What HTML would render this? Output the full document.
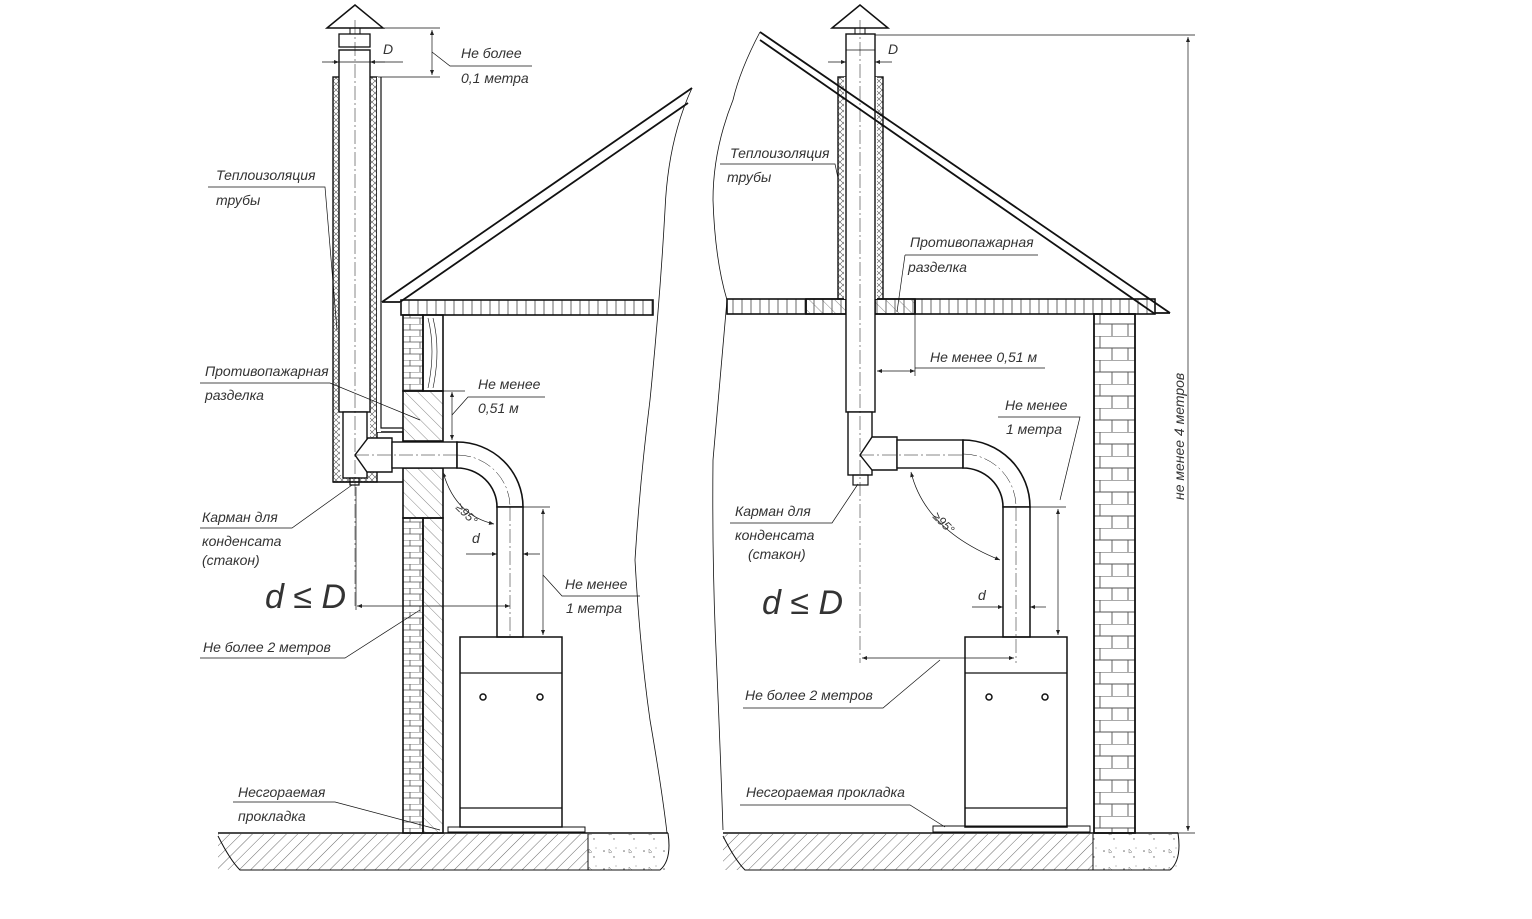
<!DOCTYPE html>
<html><head><meta charset="utf-8"><style>
html,body{margin:0;padding:0;background:#fff}
svg{display:block}
text{font-family:"Liberation Sans",sans-serif;font-style:italic;fill:#333;font-size:14px}
</style></head><body>
<svg width="1532" height="919" viewBox="0 0 1532 919" xmlns="http://www.w3.org/2000/svg">
<defs>
<pattern id="hd" width="8" height="8" patternUnits="userSpaceOnUse" patternTransform="rotate(45)"><line x1="0" y1="0" x2="0" y2="8" stroke="#444" stroke-width="0.8"/></pattern>
<pattern id="hd2" width="9" height="9" patternUnits="userSpaceOnUse" patternTransform="rotate(-45)"><line x1="0" y1="0" x2="0" y2="9" stroke="#555" stroke-width="0.7"/></pattern>
<pattern id="xh" width="6" height="6" patternUnits="userSpaceOnUse"><path d="M0 0L6 6M6 0L0 6" stroke="#555" stroke-width="0.6"/></pattern>
<pattern id="vh" width="9" height="10" patternUnits="userSpaceOnUse"><line x1="4" y1="0" x2="4" y2="10" stroke="#444" stroke-width="0.8"/></pattern>
<pattern id="brick" width="20" height="12" patternUnits="userSpaceOnUse"><path d="M0 0H20M0 6H20M10 0V6M0 6V12M20 6V12" stroke="#555" stroke-width="0.8" fill="none"/></pattern>
<pattern id="brick2" width="40" height="24" patternUnits="userSpaceOnUse"><path d="M0 0H40M0 12H40M20 0V12M8 12V24M32 12V24" stroke="#555" stroke-width="0.9" fill="none"/></pattern>
<pattern id="conc" width="20" height="18" patternUnits="userSpaceOnUse"><circle cx="4" cy="5" r="0.8" fill="#666"/><circle cx="14" cy="11" r="0.7" fill="#666"/><path d="M9 3l3 3-3 1z" fill="none" stroke="#777" stroke-width="0.5"/><circle cx="16" cy="2" r="0.5" fill="#666"/></pattern>
<marker id="ar" viewBox="0 0 10 10" refX="10" refY="5" markerWidth="9" markerHeight="5" orient="auto-start-reverse" markerUnits="userSpaceOnUse"><path d="M0 1L10 5L0 9z" fill="#222"/></marker>
</defs>
<g stroke="#111" fill="none" stroke-width="1.6">

<!-- ===== LEFT ===== -->
<!-- ground -->
<rect x="218" y="834" width="370" height="36" fill="url(#hd)" stroke="none"/>
<rect x="588" y="834" width="80" height="36" fill="url(#conc)" stroke="none"/>
<path d="M218 833H668" stroke-width="1.6"/>
<path d="M588 834V870M218 836 Q230 860 240 870 H660 Q672 860 668 833" stroke-width="1"/>
<!-- wavy break -->
<path d="M692 88 Q668 140 665 210 Q660 300 650 400 Q640 480 635 560 Q640 650 650 720 Q662 790 667 833" stroke-width="0.8"/>
<!-- roof -->
<path d="M382 302L692 88M400 302L688 103M382 302H400" stroke-width="1.8"/>
<rect x="401" y="300" width="252" height="15" fill="url(#vh)"/>
<!-- wall -->
<rect x="403" y="315" width="20" height="76" fill="url(#brick)"/>
<rect x="423" y="315" width="20" height="76"/>
<path d="M428 318 Q436 350 428 388M433 318 Q441 350 433 388" stroke-width="0.6"/>
<rect x="403" y="391" width="40" height="50" fill="url(#hd2)"/>
<rect x="403" y="468" width="40" height="50" fill="url(#hd2)"/>
<rect x="403" y="518" width="20" height="315" fill="url(#brick)"/>
<rect x="423" y="518" width="20" height="315" fill="url(#hd2)"/>
<!-- chimney -->
<path d="M327 28L355 5L383 28Z" stroke-width="1.5"/>
<rect x="350" y="28" width="10" height="6" stroke-width="1"/>
<rect x="339" y="34" width="31" height="13" stroke-width="1.3"/>
<rect x="333" y="77" width="44" height="405" fill="url(#xh)" stroke-width="1.4"/>
<path d="M377 77V432H403V441" stroke-width="1.4"/>
<path d="M333 482H403" stroke-width="1.4"/>
<rect x="340" y="77" width="30" height="398" fill="#fff" stroke="none"/>
<rect x="377" y="77" width="4" height="355" fill="#fff" stroke="none"/>
<path d="M381 77V428H403" stroke-width="1.2"/>
<rect x="339" y="50" width="31" height="362" fill="#fff" stroke-width="1.4"/>
<rect x="343" y="412" width="24" height="66" fill="#fff" stroke-width="1.4"/>
<rect x="350" y="478" width="9" height="7" stroke-width="1.2"/>
<path d="M368 438H392V472H367L355 455Z" fill="#fff" stroke-width="1.4"/>
<rect x="392" y="442" width="65" height="26" fill="#fff" stroke-width="1.4"/>
<path d="M457 442A66 65 0 0 1 523 507H497A40 39 0 0 0 457 468Z" fill="#fff" stroke-width="1.6"/>
<rect x="497" y="507" width="26" height="130" fill="#fff" stroke-width="1.5"/>
<path d="M355 20V606M355 455H457M510 507V637" stroke-width="0.5" stroke-dasharray="14 3 2 3"/>
<path d="M457 455A53 52 0 0 1 510 507" stroke-width="0.5" stroke-dasharray="14 3 2 3"/>
<!-- boiler -->
<rect x="460" y="637" width="102" height="190" stroke-width="1.5"/>
<path d="M460 673H562M460 808H562" stroke-width="1.3"/>
<circle cx="483" cy="697" r="3" stroke-width="1.5"/>
<circle cx="540" cy="697" r="3" stroke-width="1.5"/>
<rect x="448" y="827" width="137" height="5" stroke-width="1"/>
<!-- dims -->
<g stroke-width="0.7">
<path d="M335 28H440M378 77H440M332 62H403"/>
<path d="M432 30V75" marker-start="url(#ar)" marker-end="url(#ar)"/>
<path d="M322 62H339" marker-end="url(#ar)"/><path d="M385 62H370" marker-end="url(#ar)"/>
<path d="M432 52L450 66H532"/>
<path d="M452 392V440" marker-start="url(#ar)" marker-end="url(#ar)"/>
<path d="M443 391H465"/><path d="M452 415L468 397H545"/>
<path d="M356 487V610"/>
<path d="M357 606H510" marker-start="url(#ar)" marker-end="url(#ar)"/>
<path d="M466 554H497" marker-end="url(#ar)"/><path d="M540 554H523" marker-end="url(#ar)"/>
<path d="M523 507H550"/>
<path d="M543 509V635" marker-start="url(#ar)" marker-end="url(#ar)"/>
<path d="M543 575L562 596H640"/>
<path d="M443 472Q455 515 494 524" marker-start="url(#ar)" marker-end="url(#ar)"/>
<path d="M208 187H325L337 330"/>
<path d="M200 383H330L420 420"/>
<path d="M200 528H292L352 485"/>
<path d="M200 658H345L420 610"/>
<path d="M233 802H335L440 830"/>
</g>

<!-- ===== RIGHT ===== -->
<rect x="723" y="834" width="370" height="36" fill="url(#hd)" stroke="none"/>
<rect x="1093" y="834" width="85" height="36" fill="url(#conc)" stroke="none"/>
<path d="M723 833H1178" stroke-width="1.6"/>
<path d="M1093 834V870M723 836 Q735 860 745 870 H1170 Q1182 860 1178 833" stroke-width="1"/>
<path d="M760 32 Q740 70 733 100 Q713 150 713 200 Q715 260 727 300 Q720 380 713 460 Q712 560 716 650 Q720 740 723 830" stroke-width="0.8"/>
<!-- slab -->
<rect x="727" y="299" width="428" height="15" fill="url(#vh)"/>
<rect x="806" y="299" width="40" height="15" fill="url(#hd2)"/>
<rect x="875" y="299" width="40" height="15" fill="url(#hd2)"/>
<path d="M806 299V314M915 299V314"/>
<!-- brick wall -->
<rect x="1094" y="314" width="41" height="519" fill="url(#brick2)" stroke-width="1.8"/>
<!-- chimney -->
<rect x="838" y="77" width="45" height="222" fill="url(#xh)" stroke-width="1.4"/>
<rect x="844" y="77" width="33" height="222" fill="#fff" stroke="none"/>
<path d="M832 28L860 5L888 28Z" stroke-width="1.5"/>
<rect x="855" y="28" width="10" height="6" stroke-width="1"/>
<rect x="846" y="34" width="29" height="378" fill="#fff" stroke-width="1.4"/>
<path d="M846 50H875" stroke-width="0.8"/>
<!-- roof diagonal -->
<path d="M760 32L1170 313M760 40L1155 314M1155 313H1170" stroke-width="1.8"/>
<rect x="848" y="412" width="24" height="63" fill="#fff" stroke-width="1.4"/>
<rect x="853" y="475" width="15" height="10" stroke-width="1.2"/>
<path d="M872 437H897V470H872L860 455Z" fill="#fff" stroke-width="1.4"/>
<rect x="897" y="440" width="66" height="28" fill="#fff" stroke-width="1.4"/>
<path d="M963 440A67 67 0 0 1 1030 507H1003A40 39 0 0 0 963 468Z" fill="#fff" stroke-width="1.6"/>
<rect x="1003" y="507" width="27" height="130" fill="#fff" stroke-width="1.5"/>
<path d="M860 20V663M860 455H963M1016 507V663" stroke-width="0.5" stroke-dasharray="14 3 2 3"/>
<path d="M963 454A53 53 0 0 1 1016 507" stroke-width="0.5" stroke-dasharray="14 3 2 3"/>
<rect x="965" y="637" width="102" height="190" stroke-width="1.5"/>
<path d="M965 673H1067M965 808H1067" stroke-width="1.3"/>
<circle cx="989" cy="697" r="3" stroke-width="1.5"/>
<circle cx="1045" cy="697" r="3" stroke-width="1.5"/>
<rect x="933" y="826" width="157" height="6" stroke-width="1"/>
<g stroke-width="0.7">
<path d="M875 35H1195M1135 833H1195"/>
<path d="M1188 37V831" marker-start="url(#ar)" marker-end="url(#ar)"/>
<path d="M828 62H846" marker-end="url(#ar)"/><path d="M892 62H875" marker-end="url(#ar)"/>
<path d="M915 314V376"/>
<path d="M877 371H915" marker-start="url(#ar)" marker-end="url(#ar)"/>
<path d="M915 368H1045"/>
<path d="M1030 507H1066"/>
<path d="M1058 509V635" marker-start="url(#ar)" marker-end="url(#ar)"/>
<path d="M1060 500L1080 417H998"/>
<path d="M972 607H1003" marker-end="url(#ar)"/><path d="M1046 607H1030" marker-end="url(#ar)"/>
<path d="M862 658H1014" marker-start="url(#ar)" marker-end="url(#ar)"/>
<path d="M911 472Q925 530 1000 560" marker-start="url(#ar)" marker-end="url(#ar)"/>
<path d="M720 164H835L838 178"/>
<path d="M905 255H1038M905 255L897 312"/>
<path d="M730 523H832L858 484"/>
<path d="M743 708H883L940 660"/>
<path d="M740 805H910L945 827"/>
</g>
</g>

<!-- texts left -->
<text x="461" y="58">Не более</text>
<text x="461" y="83">0,1 метра</text>
<text x="383" y="54">D</text>
<text x="216" y="180">Теплоизоляция</text>
<text x="216" y="205">трубы</text>
<text x="205" y="376">Противопажарная</text>
<text x="205" y="400">разделка</text>
<text x="478" y="389">Не менее</text>
<text x="478" y="413">0,51 м</text>
<text x="202" y="522">Карман для</text>
<text x="202" y="546">конденсата</text>
<text x="202" y="565">(стакон)</text>
<text x="265" y="608" style="font-size:34px">d ≤ D</text>
<text x="472" y="543">d</text>
<text x="565" y="589">Не менее</text>
<text x="566" y="613">1 метра</text>
<text x="203" y="652">Не более 2 метров</text>
<text x="238" y="797">Несгораемая</text>
<text x="238" y="821">прокладка</text>
<text x="0" y="0" transform="translate(455,508) rotate(45)" style="font-size:12px">≥95°</text>
<!-- texts right -->
<text x="888" y="54">D</text>
<text x="730" y="158">Теплоизоляция</text>
<text x="727" y="182">трубы</text>
<text x="910" y="247">Противопажарная</text>
<text x="908" y="272">разделка</text>
<text x="930" y="362">Не менее 0,51 м</text>
<text x="1005" y="410">Не менее</text>
<text x="1006" y="434">1 метра</text>
<text x="735" y="516">Карман для</text>
<text x="735" y="540">конденсата</text>
<text x="748" y="559">(стакон)</text>
<text x="762" y="614" style="font-size:34px">d ≤ D</text>
<text x="978" y="600">d</text>
<text x="745" y="700">Не более 2 метров</text>
<text x="746" y="797">Несгораемая прокладка</text>
<text x="0" y="0" transform="translate(932,517) rotate(45)" style="font-size:12px">≥95°</text>
<text x="0" y="0" transform="translate(1184,500) rotate(-90)">не менее 4 метров</text>
</svg>
</body></html>
